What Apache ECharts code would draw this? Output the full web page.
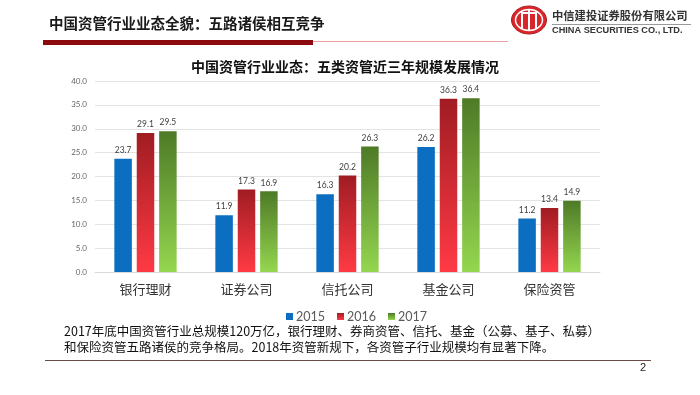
<!DOCTYPE html>
<html><head><meta charset="utf-8">
<script src="https://cdn.jsdelivr.net/npm/echarts@6/dist/echarts.min.js"></script>
<style>html,body{margin:0;padding:0;background:#fff}#c{width:700px;height:395px}</style>
</head><body><div id="c"></div>
<script>
const categories = ['银行理财','证券公司','信托公司','基金公司','保险资管'];
const seriesNames = ['2015','2016','2017'];
const v2015 = [23.7, 11.9, 16.3, 26.2, 11.2];
const v2016 = [29.1, 17.3, 20.2, 36.3, 13.4];
const v2017 = [29.5, 16.9, 26.3, 36.4, 14.9];
const yTicks = {min: 0, max: 40, interval: 5};

const CJK = '"Noto Sans CJK SC", sans-serif';
const chart = echarts.init(document.getElementById('c'), null, {renderer: 'canvas'});
const lin = (a, b) => new echarts.graphic.LinearGradient(0, 0, 0, 1, [{offset: 0, color: a}, {offset: 1, color: b}]);
const lbl = {show: true, position: 'top', distance: 4, fontSize: 8.5, color: '#404040', fontFamily: 'Lato, sans-serif', formatter: p => p.value.toFixed(1)};

chart.setOption({
  animation: false,
  title: {
    text: '中国资管行业业态：五类资管近三年规模发展情况',
    left: 340, top: 55, textAlign: 'center',
    textStyle: {fontFamily: CJK, fontSize: 14, fontWeight: 'bold', color: '#111'}
  },
  legend: {
    data: seriesNames, left: 281, top: 305, itemWidth: 7, itemHeight: 7, itemGap: 12,
    icon: 'rect', textStyle: {fontSize: 12.5, color: '#595959', fontFamily: 'Lato, sans-serif', padding: [0, 0, 0, -2]}
  },
  grid: {left: 95, right: 100, top: 81, bottom: 123},
  xAxis: {
    type: 'category', data: categories,
    axisLine: {lineStyle: {color: '#d9d9d9'}}, axisTick: {show: false},
    axisLabel: {fontFamily: CJK, fontSize: 13, color: '#333', margin: 11}
  },
  yAxis: {
    type: 'value', min: yTicks.min, max: yTicks.max, interval: yTicks.interval,
    axisLine: {show: false}, axisTick: {show: false},
    axisLabel: {fontSize: 8, color: '#666', margin: 8, formatter: v => v.toFixed(1), fontFamily: 'Lato, sans-serif'},
    splitLine: {lineStyle: {color: '#e3e3e3'}}
  },
  series: [
    {name: '2015', type: 'bar', data: v2015, barWidth: 17.5, barGap: '28%', itemStyle: {color: '#0B6EC0'}, label: lbl},
    {name: '2016', type: 'bar', data: v2016, barWidth: 17.5, barGap: '28%', itemStyle: {color: lin('#A01C22', '#FF3A44')}, label: lbl},
    {name: '2017', type: 'bar', data: v2017, barWidth: 17.5, barGap: '28%', itemStyle: {color: lin('#4E7A27', '#94D64F')}, label: lbl}
  ],
  graphic: [
    {type: 'text', left: 49, top: 16, style: {text: '中国资管行业业态全貌：五路诸侯相互竞争', font: 'bold 14.5px "Noto Sans CJK SC"', fill: '#1a1a1a'}},
    {type: 'rect', shape: {x: 43, y: 40, width: 270, height: 5}, style: {fill: '#8B0A0E'}},
    {type: 'rect', shape: {x: 313, y: 41, width: 195, height: 1}, style: {fill: '#E8A0A0'}},
    // logo
    {type: 'ellipse', shape: {cx: 529, cy: 20, rx: 17.5, ry: 14}, style: {fill: '#D9262B', stroke: '#B01A1E', lineWidth: 1}},
    {type: 'ellipse', shape: {cx: 529, cy: 20, rx: 13.5, ry: 10.5}, style: {fill: 'none', stroke: '#fff', lineWidth: 1.5}},
    {type: 'rect', shape: {x: 521, y: 12, width: 2, height: 16}, style: {fill: '#fff'}},
    {type: 'rect', shape: {x: 528, y: 10, width: 2, height: 20}, style: {fill: '#fff'}},
    {type: 'rect', shape: {x: 535, y: 12, width: 2, height: 16}, style: {fill: '#fff'}},
    {type: 'rect', shape: {x: 521, y: 12, width: 16, height: 2}, style: {fill: '#fff'}},
    {type: 'text', left: 552, top: 10, style: {text: '中信建投证券股份有限公司', font: 'bold 11.3px "Noto Sans CJK SC"', fill: '#333'}},
    {type: 'rect', shape: {x: 552, y: 24, width: 139, height: 1}, style: {fill: '#999'}},
    {type: 'text', left: 552, top: 26, style: {text: 'CHINA SECURITIES CO., LTD.', font: 'bold 9.2px "Liberation Sans"', fill: '#333'}},
    // bottom text
    {type: 'text', left: 64, top: 325, style: {text: '2017年底中国资管行业总规模120万亿，银行理财、券商资管、信托、基金（公募、基子、私募）', font: '12.5px "Noto Sans CJK SC"', fill: '#111'}},
    {type: 'text', left: 64, top: 341, style: {text: '和保险资管五路诸侯的竞争格局。2018年资管新规下，各资管子行业规模均有显著下降。', font: '12.5px "Noto Sans CJK SC"', fill: '#111'}},
    {type: 'rect', shape: {x: 45, y: 360, width: 606, height: 1}, style: {fill: '#6B4A4A'}},
    {type: 'text', left: 640, top: 362, style: {text: '2', font: '11px "Liberation Sans"', fill: '#222'}}
  ]
});
</script></body></html>
